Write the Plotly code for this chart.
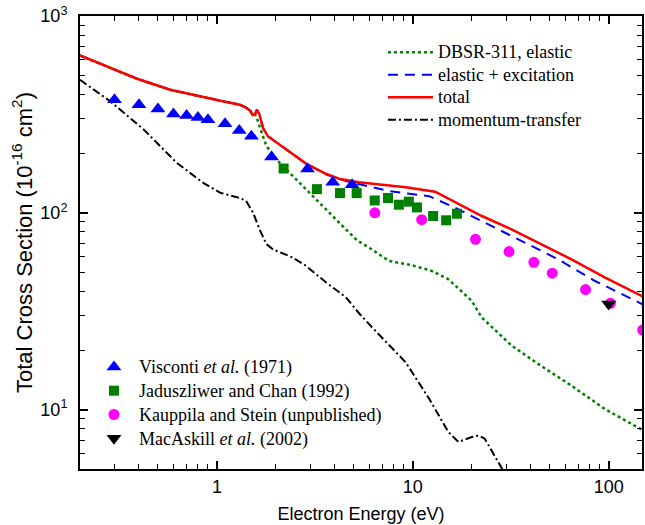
import plotly.graph_objects as go

# ---------------- data ----------------
total_E = [0.2, 0.286, 0.391, 0.577, 0.852, 1.1, 1.31, 1.39, 1.48, 1.52, 1.57, 1.60, 1.65, 1.72, 1.82,
           2.01, 2.44, 2.85, 3.6, 4.2, 5.3, 6.2, 9.2, 13.0, 15.2, 22.5, 31.9, 43.6, 64.2, 95.4, 150]
total_S = [630, 543, 480, 422, 386, 367, 354, 345, 330, 314, 320, 334, 315, 270, 245,
           228, 198, 178, 158, 149, 143, 140.6, 135, 128, 118, 96.4, 82.5, 70.6, 58.2, 47, 37.5]

exc_E = [0.2, 0.286, 0.391, 0.577, 0.852, 1.1, 1.31, 1.39, 1.48, 1.52, 1.57, 1.60, 1.65, 1.72, 1.82,
         2.01, 2.44, 2.85, 3.6, 4.56, 7.55, 12.1, 16.5, 24.4, 37.3, 55.0, 84.7, 150]
exc_S = [630, 543, 480, 422, 386, 367, 354, 345, 330, 314, 320, 334, 315, 270, 245,
         228, 198, 178, 157, 145, 129, 121.6, 106, 87.5, 71, 58.2, 45.2, 34.2]

el_E = [0.2, 0.286, 0.391, 0.577, 0.852, 1.1, 1.31, 1.39, 1.48, 1.52, 1.57, 1.59, 1.65, 1.79, 2.09,
        2.44, 3.08, 3.75, 4.55, 5.2, 6.0, 7.55, 9.9, 12.5, 15.2, 20.0, 22.5, 31.9, 43.6, 64.2, 95.4, 150]
el_S = [630, 543, 480, 422, 386, 367, 354, 345, 330, 314, 315, 309, 275, 218, 179.5,
        153.5, 121.6, 100, 82.5, 72.5, 66.5, 57, 54.2, 50.7, 46, 35.7, 29.4, 21.2, 17.1, 13.3, 10.1, 7.85]

mt_E = [0.2, 0.286, 0.423, 0.624, 0.852, 1.04, 1.31, 1.41, 1.53, 1.65, 1.79, 1.93, 2.44, 2.85, 3.6,
        4.2, 4.55, 5.3, 6.2, 9.2, 12.1, 15.2, 17.1, 20.0, 21.6, 23.3, 28.4, 30.0]
mt_S = [474, 368, 265, 179.5, 142, 126.5, 119, 115, 100, 82.5, 69.3, 65.3, 59.3, 53.8, 44.4,
        39.4, 37.3, 31, 26.2, 17.4, 11.4, 7.7, 6.86, 7.27, 7.4, 7.13, 5.07, 4.6]

visconti_E = [0.3, 0.4, 0.5, 0.6, 0.7, 0.8, 0.9, 1.1, 1.3, 1.5, 1.9, 2.9, 3.9, 4.9]
visconti_S = [376, 354, 337, 318, 312, 305, 297, 284, 262, 245, 192, 167, 143, 139]

jad_E = [2.19, 3.24, 4.25, 5.17, 6.39, 7.47, 8.49, 9.54, 10.5, 12.7, 14.8, 16.8]
jad_S = [168, 132, 126, 126, 115.6, 119, 110, 114, 106.6, 96.4, 91.7, 99]

kau_E = [6.4, 11.1, 20.9, 31.0, 41.5, 51.5, 76.2, 102, 149]
kau_S = [100, 92.4, 73.4, 63.6, 56.1, 49.4, 40.8, 34.7, 25.4]

mac_E = [100]
mac_S = [34.4]

line_names = ["DBSR-311, elastic", "elastic + excitation", "total", "momentum-transfer"]
point_names = ["Visconti <i>et al.</i> (1971)", "Jaduszliwer and Chan (1992)",
               "Kauppila and Stein (unpublished)", "MacAskill <i>et al.</i> (2002)"]

# ---------------- figure ----------------
fig = go.Figure()

serif = "Liberation Serif"
sans = "Liberation Sans"


def big(txt):
    return '<span style="font-size:18px">' + txt + '</span>'


fig.add_trace(go.Scatter(x=exc_E, y=exc_S, mode="lines", name=big(line_names[1]), legendrank=2,
                         line=dict(color="#0000ff", width=2, dash="10px,7px"), legend="legend"))
fig.add_trace(go.Scatter(x=el_E, y=el_S, mode="lines", name=big(line_names[0]), legendrank=1,
                         line=dict(color="#008000", width=2.5, dash="3px,3px"), legend="legend"))
fig.add_trace(go.Scatter(x=total_E, y=total_S, mode="lines", name=big(line_names[2]), legendrank=3,
                         line=dict(color="#ff0000", width=2.5), legend="legend"))
fig.add_trace(go.Scatter(x=mt_E, y=mt_S, mode="lines", name=big(line_names[3]), legendrank=4,
                         line=dict(color="#000000", width=2, dash="8px,3px,2px,3px"), legend="legend"))

fig.add_trace(go.Scatter(x=visconti_E, y=visconti_S, mode="markers", name=big(point_names[0]),
                         marker=dict(symbol="triangle-up", size=13, color="#0000ff"), legend="legend2"))
fig.add_trace(go.Scatter(x=jad_E, y=jad_S, mode="markers", name=big(point_names[1]),
                         marker=dict(symbol="square", size=10, color="#008000"), legend="legend2"))
fig.add_trace(go.Scatter(x=kau_E, y=kau_S, mode="markers", name=big(point_names[2]),
                         marker=dict(symbol="circle", size=11, color="#ff00ff"), legend="legend2"))
fig.add_trace(go.Scatter(x=mac_E, y=mac_S, mode="markers", name=big(point_names[3]),
                         marker=dict(symbol="triangle-down", size=13, color="#000000"), legend="legend2"))

minor_x = [v * m for m in (0.1, 1, 10, 100) for v in range(2, 10)]
minor_y = [v * m for m in (1, 10, 100) for v in range(2, 10)]

fig.update_layout(
    width=645, height=525,
    margin=dict(l=80, r=1, t=16, b=56),
    paper_bgcolor="white", plot_bgcolor="white",
    font=dict(family=sans, size=17, color="black"),
    legend=dict(x=(384 - 80) / 564, y=1 - (36 - 16) / 453, xanchor="left", yanchor="top",
                bgcolor="rgba(0,0,0,0)", font=dict(family=serif, size=15), itemwidth=45,
                traceorder="normal"),
    legend2=dict(x=(89 - 80) / 564, y=1 - (350 - 16) / 453, xanchor="left", yanchor="top",
                 bgcolor="rgba(0,0,0,0)", font=dict(family=serif, size=16), itemwidth=40),
    xaxis=dict(type="log", range=[-0.699, 2.17], showgrid=False, zeroline=False,
               showline=True, linecolor="black", linewidth=2, mirror="allticks",
               ticks="inside", ticklen=8, tickwidth=1.5, tickcolor="black",
               tickvals=[1, 10, 100], ticktext=["1", "10", "100"],
               tickfont=dict(family=sans, size=18),
               minor=dict(tickvals=minor_x, ticks="inside", ticklen=5, tickwidth=1.2, tickcolor="black"),
               title=dict(text="Electron Energy (eV)", font=dict(family=sans, size=18), standoff=12)),
    yaxis=dict(type="log", range=[0.699, 3.0], showgrid=False, zeroline=False,
               showline=True, linecolor="black", linewidth=2, mirror="allticks",
               ticks="inside", ticklen=8, tickwidth=1.5, tickcolor="black",
               tickvals=[10, 100, 1000], ticktext=["10<sup>1</sup>", "10<sup>2</sup>", "10<sup>3</sup>"],
               tickfont=dict(family=sans, size=18), ticklabelstandoff=7,
               minor=dict(tickvals=minor_y, ticks="inside", ticklen=5, tickwidth=1.2, tickcolor="black"),
               title=dict(text="Total Cross Section (10<sup>-16</sup> cm<sup>2</sup>)",
                          font=dict(family=sans, size=22), standoff=2)),
)

fig.write_html("out.html")
